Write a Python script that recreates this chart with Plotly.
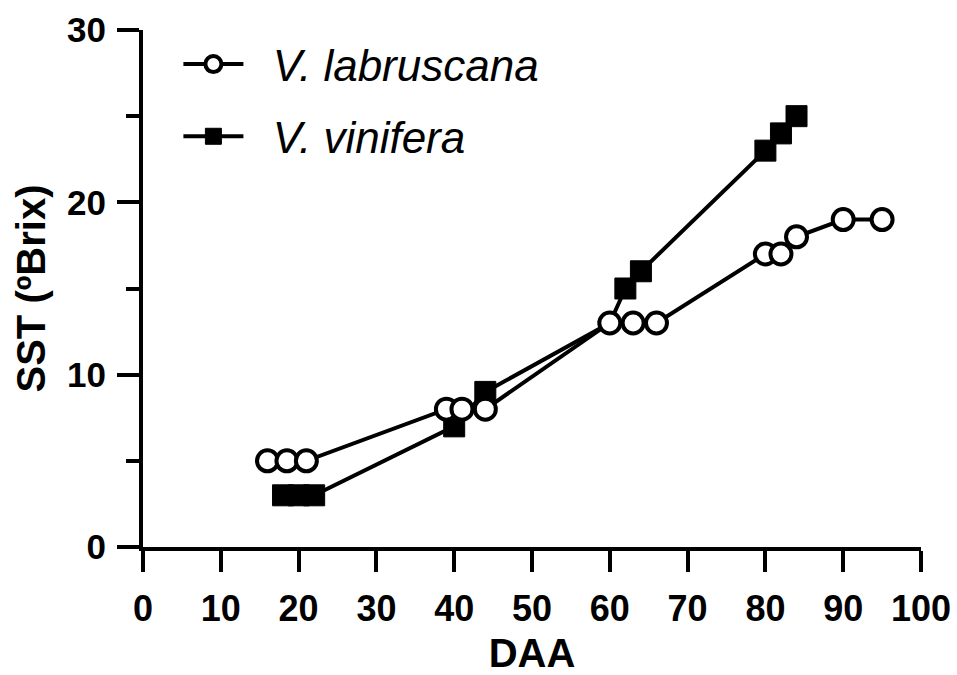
import plotly.graph_objects as go

# Data
lab_x = [16, 18.5, 21, 39, 41, 44, 60, 63, 66, 80, 82, 84, 90, 95]
lab_y = [5, 5, 5, 8, 8, 8, 13, 13, 13, 17, 17, 18, 19, 19]
vin_x = [18, 20, 22, 40, 44, 60, 62, 64, 80, 82, 84]
vin_y = [3, 3, 3, 7, 9, 13, 15, 16, 23, 24, 25]
x_ticks = [0, 10, 20, 30, 40, 50, 60, 70, 80, 90, 100]
y_ticks = [0, 10, 20, 30]

vin_sizes = [0 if x == 60 else 21 for x in vin_x]

fig = go.Figure()
fig.add_trace(go.Scatter(
    x=vin_x, y=vin_y, mode="lines+markers",
    name="\u00a0\u00a0<i>V. vinifera</i>",
    line=dict(color="black", width=4),
    marker=dict(symbol="square", size=vin_sizes, color="black", opacity=1,
                line=dict(color="black", width=1)),
    legendgroup="b", legendrank=2,
))
fig.add_trace(go.Scatter(
    x=lab_x, y=lab_y, mode="lines+markers",
    name="\u00a0\u00a0<i>V. labruscana</i>",
    line=dict(color="black", width=4),
    marker=dict(symbol="circle", size=21, color="white", opacity=1,
                line=dict(color="black", width=4)),
    legendgroup="a", legendrank=1,
))

fam = "Liberation Sans, Arial, sans-serif"
xtick_font = dict(family=fam, size=36, color="black", weight="bold")
ytick_font = dict(family=fam, size=35, color="black", weight="bold")
title_font = dict(family=fam, size=40, color="black")

fig.update_layout(
    width=957, height=675,
    margin=dict(l=143, r=36, t=30, b=128),
    plot_bgcolor="white", paper_bgcolor="white",
    font=dict(family=fam, color="black"),
    showlegend=True,
    legend=dict(
        x=0.0455, y=1.002, xanchor="left", yanchor="top",
        traceorder="grouped", tracegroupgap=12,
        font=dict(family=fam, size=44, color="black"),
        bgcolor="rgba(0,0,0,0)", itemwidth=60,
    ),
    xaxis=dict(
        range=[0, 100], tickvals=x_ticks, ticktext=[str(v) for v in x_ticks],
        showgrid=False, zeroline=False, automargin=False,
        showline=True, linecolor="black", linewidth=4,
        ticks="outside", ticklen=21, tickwidth=4, tickcolor="black",
        tickfont=xtick_font,
        ticklabelstandoff=6,
        title=dict(text="<b>DAA</b>", font=title_font, standoff=20),
    ),
    yaxis=dict(
        range=[0, 30], tickvals=y_ticks, ticktext=[str(v) for v in y_ticks],
        showgrid=False, zeroline=False, automargin=False,
        showline=True, linecolor="black", linewidth=4,
        ticks="outside", ticklen=22, tickwidth=4, tickcolor="black",
        minor=dict(ticks="outside", ticklen=13, tickwidth=4, tickcolor="black",
                   tickvals=[5, 15, 25]),
        tickfont=ytick_font,
        ticklabelstandoff=4,
        title=dict(text="<b>SST (ºBrix)</b>", font=title_font, standoff=10),
    ),
)

fig.write_html("out.html")
